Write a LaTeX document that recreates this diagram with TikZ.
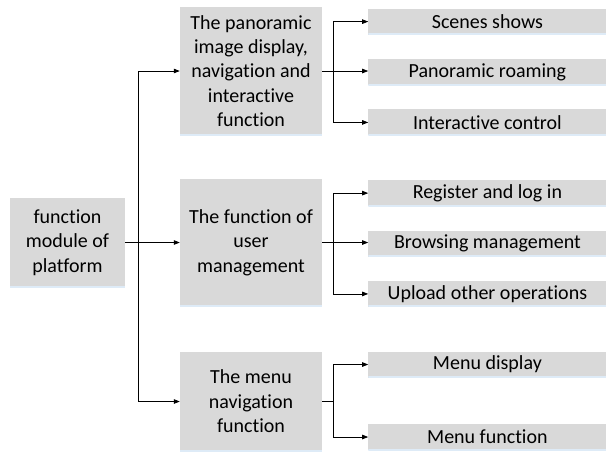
\documentclass[tikz,border=0pt]{standalone}
\usepackage{fontspec}
\setmainfont{Carlito}[RawFeature={-liga;-clig;-calt;-dlig}]
\usepackage{tikz}
\usetikzlibrary{positioning, arrows.meta}

\definecolor{boxgray}{RGB}{217,217,217}
\definecolor{edgeblue}{RGB}{222,235,247}

\begin{document}
\begin{tikzpicture}[
    x=1pt, y=-1pt,
    node distance=24pt and 46pt,
    box/.style={rectangle, fill=boxgray, inner sep=0pt, minimum width=142pt, align=center, font=\fontsize{20}{24.4}\selectfont,
        path picture={\draw[edgeblue, line width=3pt] (path picture bounding box.south west) -- (path picture bounding box.south east);}},
    leaf/.style={box, minimum width=238pt, minimum height=26pt},
    arrow/.style={-{Triangle[length=6pt, width=4.5pt]}, line width=0.8pt}
]
    \useasboundingbox (0,0) rectangle (607,451);

    % Root
    \node[box, minimum width=115pt, minimum height=89pt] (platform) at (67.5,242.5) {function\\module of\\platform};

    % Main functions
    \node[box, minimum height=128pt] (panorama) at (251,71) {The panoramic\\image display,\\navigation and\\interactive\\function};
    \node[box, minimum height=127pt] (usermgmt) at (251,242.5) {The function of\\user\\management};
    \node[box, minimum height=99pt] (menunav) at (251,401.5) {The menu\\navigation\\function};

    % Sub functions
    \node[leaf, right=46pt of panorama, yshift=-1pt] (roaming) {Panoramic roaming};
    \node[leaf, above=of roaming] (scenes) {Scenes shows};
    \node[leaf, below=of roaming] (interact) {Interactive control};

    \node[leaf, right=46pt of usermgmt, yshift=-1pt] (browsing) {Browsing management};
    \node[leaf, above=of browsing] (register) {Register and log in};
    \node[leaf, below=of browsing] (upload) {Upload other operations};

    \node[leaf, right=46pt of menunav, yshift=37pt] (menudisp) {Menu display};
    \node[leaf, right=46pt of menunav, yshift=-35.5pt] (menufunc) {Menu function};

    % Connections
    \draw[arrow] (platform.east) -- ++(13,0) |- (panorama);
    \draw[arrow] (platform.east) -- (usermgmt);
    \draw[arrow] (platform.east) -- ++(13,0) |- (menunav);

    \draw[arrow] (panorama.east) -- ++(11,0) |- (scenes);
    \draw[arrow] (panorama.east) -- (roaming.west |- panorama.east);
    \draw[arrow] (panorama.east) -- ++(11,0) |- (interact);

    \draw[arrow] (usermgmt.east) -- ++(11,0) |- (register);
    \draw[arrow] (usermgmt.east) -- (browsing.west |- usermgmt.east);
    \draw[arrow] (usermgmt.east) -- ++(11,0) |- (upload);

    \draw[arrow] (menunav.east) -- ++(11,0) |- (menudisp);
    \draw[arrow] (menunav.east) -- ++(11,0) |- (menufunc);
\end{tikzpicture}
\end{document}
